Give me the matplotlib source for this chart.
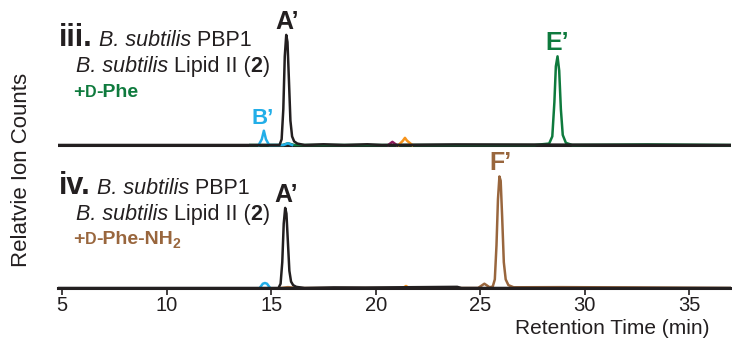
import matplotlib
matplotlib.use("Agg")
import matplotlib.pyplot as plt

plt.rcParams['font.family'] = ['Liberation Sans', 'DejaVu Sans']

# colours
BLACK = "#231f20"
GREEN = "#0e7a3d"
BROWN = "#99663d"
BLUE = "#22aee8"
ORANGE = "#f7941d"
PURPLE = "#8e1b5e"

# offset of the upper panel (iii) above the lower one (iv)
offset_top = 1.0

# ---- panel iii traces (retention time, relative counts) ----
iii_black_x = [4.8, 15.40, 15.5, 15.58, 15.65, 15.72, 15.78, 15.85, 15.92, 16.0,
               16.1, 16.25, 16.6, 17.5, 18.5, 19.6, 20.3, 23.8, 37.0]
iii_black_y = [0.0, 0.0, 0.04, 0.25, 0.62, 0.77, 0.72, 0.45, 0.17, 0.06,
               0.025, 0.01, 0.0, 0.005, 0.0, 0.005, 0.0, 0.004, 0.0]
iii_green_x = [14.0, 15.55, 15.8, 16.1, 27.6, 28.3, 28.45, 28.55, 28.62, 28.7,
               28.78, 28.86, 28.95, 29.1, 29.4, 33.0, 37.0]
iii_green_y = [0.0, 0.0, 0.012, 0.0, 0.0, 0.01, 0.06, 0.3, 0.55, 0.62, 0.52,
               0.25, 0.07, 0.015, 0.0, 0.004, 0.0]
iii_blue_x = [14.4, 14.55, 14.65, 14.75, 14.9, 15.6, 15.8, 16.0]
iii_blue_y = [0.0, 0.04, 0.10, 0.04, 0.0, 0.0, 0.012, 0.0]
iii_purple_x = [20.6, 20.8, 21.0]
iii_purple_y = [0.0, 0.022, 0.0]
iii_orange_x = [21.1, 21.3, 21.4, 21.5, 21.75]
iii_orange_y = [0.0, 0.03, 0.05, 0.03, 0.0]

# ---- panel iv traces ----
iv_black_x = [4.8, 15.35, 15.45, 15.53, 15.6, 15.67, 15.73, 15.8, 15.87, 15.95,
              16.05, 16.2, 16.6, 18.0, 19.5, 23.9, 24.1, 37.0]
iv_black_y = [0.0, 0.0, 0.03, 0.18, 0.45, 0.56, 0.52, 0.32, 0.12, 0.045,
              0.02, 0.008, 0.0, 0.004, 0.003, 0.008, 0.0, 0.0]
iv_brown_x = [15.4, 15.8, 16.3, 24.9, 25.1, 25.2, 25.3, 25.45, 25.6, 25.7,
              25.78, 25.85, 25.92, 25.98, 26.05, 26.13, 26.22, 26.35, 26.6,
              28.9, 32.3, 37.0]
iv_brown_y = [0.0, 0.006, 0.0, 0.0, 0.02, 0.03, 0.02, 0.005, 0.01, 0.06,
              0.3, 0.62, 0.78, 0.75, 0.5, 0.18, 0.06, 0.02, 0.005,
              0.006, 0.004, 0.0]
iv_blue_x = [14.45, 14.6, 14.7, 14.8, 14.95]
iv_blue_y = [0.0, 0.03, 0.035, 0.03, 0.0]
iv_orange_x = [21.3, 21.45, 21.6]
iv_orange_y = [0.0, 0.014, 0.0]

xticks = [5, 10, 15, 20, 25, 30, 35]

W, H = 732, 344
fig = plt.figure(figsize=(W / 100, H / 100), dpi=100)
ax = fig.add_axes([58 / W, 1 - 288 / H, (731 - 58) / W, 288 / H])

lw = 1.8
top = lambda ys: [v + offset_top for v in ys]

ax.plot(iii_green_x, top(iii_green_y), color=GREEN, lw=lw)
ax.plot(iii_blue_x, top(iii_blue_y), color=BLUE, lw=lw)
ax.plot(iii_purple_x, top(iii_purple_y), color=PURPLE, lw=lw)
ax.plot(iii_orange_x, top(iii_orange_y), color=ORANGE, lw=lw)
ax.plot(iii_black_x, top(iii_black_y), color=BLACK, lw=lw)
ax.axhline(offset_top, color=BLACK, lw=2.2, zorder=1)

ax.plot(iv_brown_x, iv_brown_y, color=BROWN, lw=lw)
ax.plot(iv_blue_x, iv_blue_y, color=BLUE, lw=lw)
ax.plot(iv_orange_x, iv_orange_y, color=ORANGE, lw=lw)
ax.plot(iv_black_x, iv_black_y, color=BLACK, lw=lw)

ax.set_xlim(4.8, 37.0)
ax.set_ylim(0, 288 / 143)
for s in ["top", "right", "left"]:
    ax.spines[s].set_visible(False)
ax.spines["bottom"].set_linewidth(2.2)
ax.spines["bottom"].set_color(BLACK)
ax.set_yticks([])
ax.set_xticks(xticks)
ax.tick_params(axis="x", length=5, width=1.2, color=BLACK, labelsize=14.5, pad=1,
               labelcolor=BLACK)

fig.text(612 / W, 1 - 328 / H, "Retention Time (min)", ha="center", va="center",
         fontsize=15, color=BLACK)
fig.text(22 / W, 1 - 170 / H, "Relatvie Ion Counts", ha="center", va="center",
         rotation=90, fontsize=16, color=BLACK)

# peak labels
def peak_label(x, y, s, color, size=18):
    ax.annotate(s, (x, y), xytext=(0, 1), textcoords="offset points",
                ha="center", va="bottom", fontsize=size, fontweight="bold",
                color=color)

peak_label(15.75, offset_top + 0.77, "A\u2019", BLACK)
peak_label(28.7, offset_top + 0.62, "E\u2019", GREEN)
peak_label(14.6, offset_top + 0.10, "B\u2019", BLUE, size=16)
peak_label(15.7, 0.56, "A\u2019", BLACK)
peak_label(25.95, 0.78, "F\u2019", BROWN)

# text blocks made of runs with different styles
renderer = fig.canvas.get_renderer()

def runs(x, y, parts):
    # x, y in pixels from the top-left corner, y is the baseline
    for s, kw in parts:
        dy = kw.pop("dy", 0)
        t = fig.text(x / W, 1 - (y + dy) / H, s, va="baseline", ha="left", **kw)
        x += t.get_window_extent(renderer).width

big = dict(fontsize=22, fontweight="bold", color=BLACK)
it = dict(fontsize=15.5, style="italic", color=BLACK)
rg = dict(fontsize=15.5, color=BLACK)
bd = dict(fontsize=15.5, fontweight="bold", color=BLACK)

runs(59, 46, [("iii.", dict(big)), (" B. subtilis", dict(it)), (" PBP1", dict(rg))])
runs(76, 72, [("B. subtilis", dict(it)), (" Lipid II (", dict(rg)), ("2", dict(bd)),
              (")", dict(rg))])
runs(73, 97, [("+", dict(fontsize=14, fontweight="bold", color=GREEN)),
              ("D", dict(fontsize=11.5, fontweight="bold", color=GREEN)),
              ("-Phe", dict(fontsize=14, fontweight="bold", color=GREEN))])

runs(59, 194, [("iv.", dict(big)), (" B. subtilis", dict(it)), (" PBP1", dict(rg))])
runs(76, 220, [("B. subtilis", dict(it)), (" Lipid II (", dict(rg)), ("2", dict(bd)),
               (")", dict(rg))])
runs(73, 244, [("+", dict(fontsize=14, fontweight="bold", color=BROWN)),
               ("D", dict(fontsize=11.5, fontweight="bold", color=BROWN)),
               ("-Phe-NH", dict(fontsize=14, fontweight="bold", color=BROWN)),
               ("2", dict(fontsize=10, fontweight="bold", color=BROWN, dy=4))])

fig.savefig("out.png", dpi=100)
